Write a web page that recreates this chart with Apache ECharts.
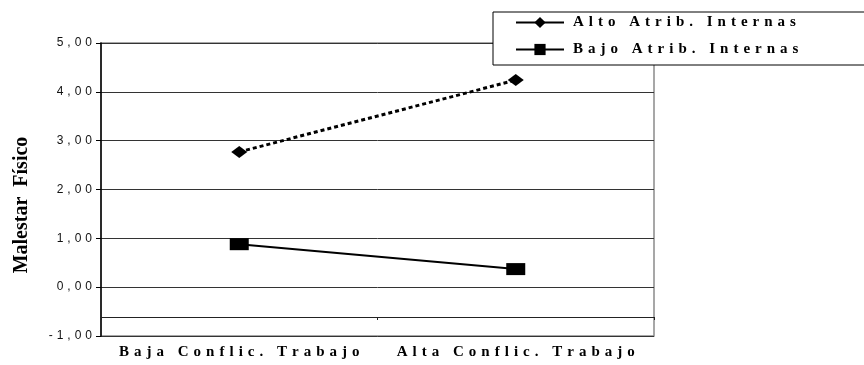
<!DOCTYPE html>
<html>
<head>
<meta charset="utf-8">
<script src="https://cdn.jsdelivr.net/npm/echarts@6/dist/echarts.min.js"></script>
<style>
  html, body { margin: 0; padding: 0; background: #fff; }
  #chart { width: 864px; height: 365px; }
</style>
</head>
<body>
<div id="chart"></div>
<script>
// categories and series values
var categories = ['Baja Conflic. Trabajo', 'Alta Conflic. Trabajo'];
var altoAtrib = [2.77, 4.24];
var bajoAtrib = [0.88, 0.37];
var seriesNames = ['Alto Atrib. Internas', 'Bajo Atrib. Internas'];
var yName = 'Malestar  Físico';

// the old chart spreads its letters out
function spread(s, gap) {
  return s.split('').join(gap);
}

var chart = echarts.init(document.getElementById('chart'));

chart.setOption({
  animation: false,
  grid: {
    left: 101, right: 210, top: 43, bottom: 29,
    show: true, borderColor: '#8a8a8a', borderWidth: 1.5,
    backgroundColor: 'transparent'
  },
  legend: {
    orient: 'vertical',
    left: 493, top: 12,
    padding: [3, 80, 8, 22],
    itemGap: 12,
    itemWidth: 48, itemHeight: 14,
    backgroundColor: '#fff',
    borderColor: '#000', borderWidth: 1,
    textStyle: { fontFamily: 'Liberation Serif', fontWeight: 'bold', fontSize: 15, color: '#000', padding: [0, 0, 0, 4] },
    formatter: function (n) { return spread(n, '\u2004'); },
    data: [
      { name: seriesNames[0], lineStyle: { type: 'solid', width: 2 } },
      { name: seriesNames[1], lineStyle: { type: 'solid', width: 2 } }
    ]
  },
  xAxis: {
    type: 'category',
    data: categories,
    offset: -19,
    axisLine: { show: true, onZero: false, lineStyle: { color: '#222', width: 1 } },
    axisTick: { show: true, length: 3, lineStyle: { color: '#222' } },
    axisLabel: {
      interval: 0,
      margin: 28,
      fontFamily: 'Liberation Serif', fontWeight: 'bold', fontSize: 15, color: '#000',
      formatter: function (v) { return spread(v, '\u2004'); }
    }
  },
  yAxis: {
    type: 'value',
    min: -1, max: 5, interval: 1,
    axisLine: { show: true, lineStyle: { color: '#000', width: 1.5 } },
    axisTick: { show: true, length: 5, lineStyle: { color: '#000' } },
    splitLine: { lineStyle: { color: '#333', width: 1 } },
    axisLabel: {
      margin: 9,
      fontFamily: 'Liberation Sans', fontSize: 12, color: '#111',
      padding: [3, 0, 0, 0],
      formatter: function (v) { return spread(v.toFixed(2).replace('.', ','), '\u2004'); }
    }
  },
  graphic: [{
    type: 'text',
    x: 22, y: 205,
    rotation: Math.PI / 2,
    style: {
      text: yName,
      fontFamily: 'Liberation Serif', fontWeight: 'bold', fontSize: 20,
      fill: '#000', align: 'center', verticalAlign: 'middle'
    }
  }],
  series: [{
    name: seriesNames[0],
    type: 'line',
    data: altoAtrib,
    symbol: 'diamond',
    symbolSize: [16, 12],
    itemStyle: { color: '#000' },
    lineStyle: { color: '#000', width: 3, type: [4, 3] },
    z: 3
  }, {
    name: seriesNames[1],
    type: 'line',
    data: bajoAtrib,
    symbol: 'rect',
    symbolSize: [19, 12],
    itemStyle: { color: '#000' },
    lineStyle: { color: '#000', width: 2 },
    z: 3
  }]
});
</script>
</body>
</html>
